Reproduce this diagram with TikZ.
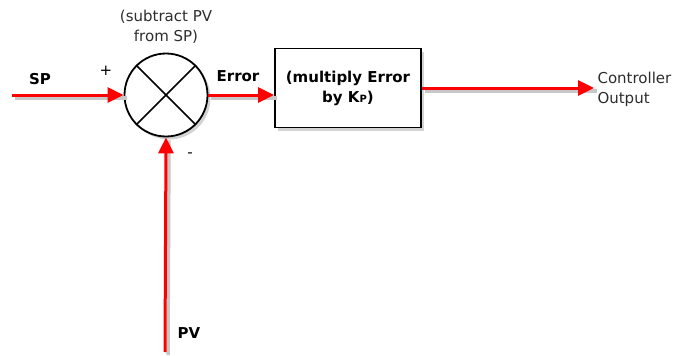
\documentclass[tikz,border=0pt]{standalone}
\usepackage{fontspec}
\setmainfont{DejaVu Sans}
\usetikzlibrary{arrows.meta,shadows}

\begin{document}
\begin{tikzpicture}[x=1pt,y=-1pt,
    font=\fontsize{15}{20}\selectfont,
    signal/.style={red,line width=3pt,-{Triangle[length=16pt,width=15pt]},
        preaction={draw=black!22,line width=3.5pt,-,transform canvas={shift={(3pt,-3pt)}}}},
    block/.style={draw,line width=1.8pt,fill=white,
        drop shadow={shadow xshift=3pt,shadow yshift=-3pt,opacity=0.35}},
    tag/.style={text=black,font=\fontsize{15}{20}\selectfont\bfseries}]
    \definecolor{notegray}{RGB}{45,45,45}
    \useasboundingbox (0,0) rectangle (675,356);

    % summing junction and gain block
    \node[block,circle,minimum size=83pt,inner sep=0pt] (sum) at (166,95) {};
    \draw[line width=1.5pt] (sum.north west)--(sum.south east);
    \draw[line width=1.5pt] (sum.north east)--(sum.south west);

    \node[block,minimum width=146pt,minimum height=79pt,align=center,tag] (gain) at (348,88)
        {(multiply Error\\by K{\fontsize{10}{12}\selectfont P})};

    % free ends
    \coordinate (spin) at (12,95);
    \coordinate (pvin) at (165,352);
    \coordinate (cout) at (594,88);

    % signals
    \draw[signal] (spin)--(sum.west);
    \draw[signal] (pvin)--(sum.south);
    \draw[signal] (sum.east)--(sum.east -| gain.west);
    \draw[signal] (gain.east |- cout)--(cout);

    % labels
    \node[tag] (splabel) at (40,79) {SP};
    \node[tag] (pvlabel) at (189,333) {PV};
    \node[tag] (errlabel) at (238,76) {Error};
    \node (plus) at (106,71) {+};
    \node (minus) at (190,155) {-};
    \node[text=notegray,align=center] (note) at (166,27) {(subtract PV\\from SP)};
    \node[text=notegray,align=left,anchor=west] (outlabel) at (594,89) {Controller\\Output};
\end{tikzpicture}
\end{document}
